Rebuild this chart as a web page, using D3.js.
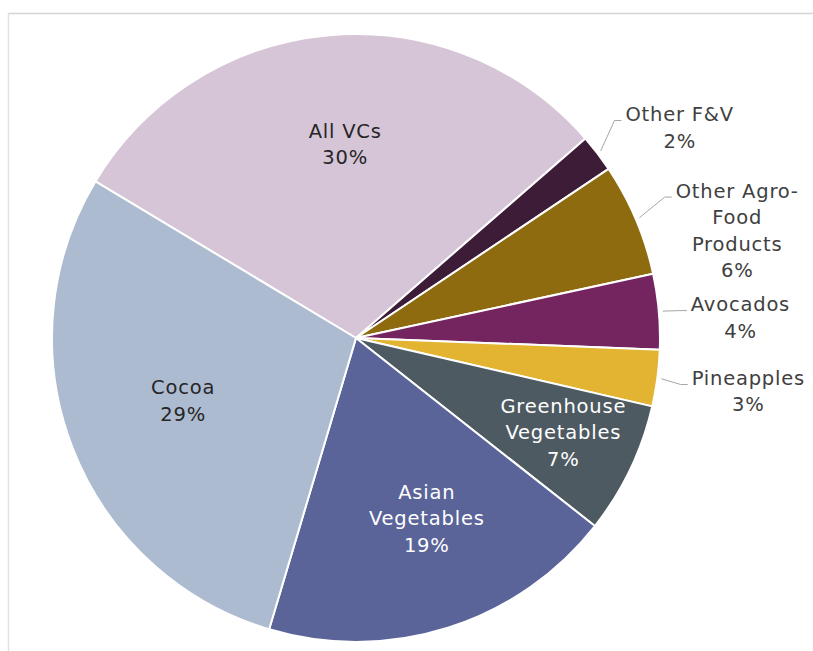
<!DOCTYPE html>
<html>
<head>
<meta charset="utf-8">
<script src="https://cdn.jsdelivr.net/npm/d3@7"></script>
<style>
  html, body { margin: 0; padding: 0; background: #fff; }
  svg { display: block; }
  text { font-family: "DejaVu Sans", Verdana, sans-serif; font-size: 19.5px; letter-spacing: 0.8px; }
</style>
</head>
<body>
<svg id="chart" width="813" height="651"></svg>
<script>
// Share of support by value chain (percent)
const categories = ["All VCs", "Other F&V", "Other Agro-Food Products", "Avocados",
                    "Pineapples", "Greenhouse Vegetables", "Asian Vegetables", "Cocoa"];
const shares = [30, 2, 6, 4, 3, 7, 19, 29];
const labelLines = [["All VCs"], ["Other F&V"], ["Other Agro-", "Food", "Products"], ["Avocados"],
                    ["Pineapples"], ["Greenhouse", "Vegetables"], ["Asian", "Vegetables"], ["Cocoa"]];
const sliceColors = ["#d6c4d7", "#3d1c37", "#8d6b0e", "#742560",
                     "#e2b431", "#4e5a61", "#5a6499", "#adbbd1"];

// Label placement: angle offset (deg) from slice middle, radius, inside/outside, text colour
const labelLayout = {
  "All VCs":                  { nudge: 1.8,  r: 194, outside: false, fill: "#262626" },
  "Other F&V":                { nudge: 4.4,  r: 386, outside: true,  fill: "#404040" },
  "Other Agro-Food Products": { nudge: 7.3,  r: 396, outside: true,  fill: "#404040" },
  "Avocados":                 { nudge: 2.0,  r: 385, outside: true,  fill: "#404040" },
  "Pineapples":               { nudge: 0.2,  r: 396, outside: true,  fill: "#404040" },
  "Greenhouse Vegetables":    { nudge: -1.0, r: 228, outside: false, fill: "#ffffff" },
  "Asian Vegetables":         { nudge: -3.8, r: 194, outside: false, fill: "#ffffff" },
  "Cocoa":                    { nudge: 1.2,  r: 184, outside: false, fill: "#262626" }
};

const data = categories.map((c, i) => ({ name: c, value: shares[i], lines: labelLines[i], color: sliceColors[i] }));

const svg = d3.select("#chart");
const W = 813, H = 651;
const cx = 356, cy = 338, radius = 304;
const lineH = 26.5;
const deg = Math.PI / 180;

// Frame lines along top and left
svg.append("line").attr("x1", 8).attr("x2", W).attr("y1", 13.5).attr("y2", 13.5)
  .attr("stroke", "#d4d4d4").attr("stroke-width", 1.5);
svg.append("line").attr("x1", 8.5).attr("x2", 8.5).attr("y1", 13).attr("y2", H)
  .attr("stroke", "#e2e2e2").attr("stroke-width", 1.5);

const start = -59 * deg;
const pie = d3.pie().value(d => d.value).sort(null).startAngle(start).endAngle(start + 2 * Math.PI);
const arcs = pie(data);
const arc = d3.arc().innerRadius(0).outerRadius(radius);

const g = svg.append("g").attr("transform", `translate(${cx},${cy})`);

g.selectAll("path.slice").data(arcs).join("path")
  .attr("class", "slice")
  .attr("d", arc)
  .attr("fill", d => d.data.color)
  .attr("stroke", "#ffffff")
  .attr("stroke-width", 2)
  .attr("stroke-linejoin", "round");

const polar = (a, r) => [Math.sin(a) * r, -Math.cos(a) * r];

arcs.forEach(d => {
  const lay = labelLayout[d.data.name];
  const mid = (d.startAngle + d.endAngle) / 2;
  const [lx, ly] = polar(mid + lay.nudge * deg, lay.r);
  const lines = d.data.lines.concat([d3.format(".0f")(d.data.value) + "%"]);
  const n = lines.length;
  const t = g.append("text")
    .attr("text-anchor", "middle")
    .attr("fill", lay.fill);
  lines.forEach((s, i) => {
    t.append("tspan")
      .attr("x", lx)
      .attr("y", ly + (i - (n - 1) / 2) * lineH)
      .attr("dominant-baseline", "central")
      .text(s);
  });

  if (lay.outside) {
    // leader from slice edge to the first text line
    const first = t.select("tspan").node();
    const left = lx - first.getComputedTextLength() / 2;
    const firstY = ly - (n - 1) / 2 * lineH;
    const [sx, sy] = polar(mid, radius + 4);
    const ex = left - 4, ey = firstY + 6;
    g.insert("polyline", "text")
      .attr("points", [[sx, sy], [ex - 7, ey], [ex, ey]].map(p => p.join(",")).join(" "))
      .attr("fill", "none")
      .attr("stroke", "#a6a6a6")
      .attr("stroke-width", 1);
  }
});
</script>
</body>
</html>
